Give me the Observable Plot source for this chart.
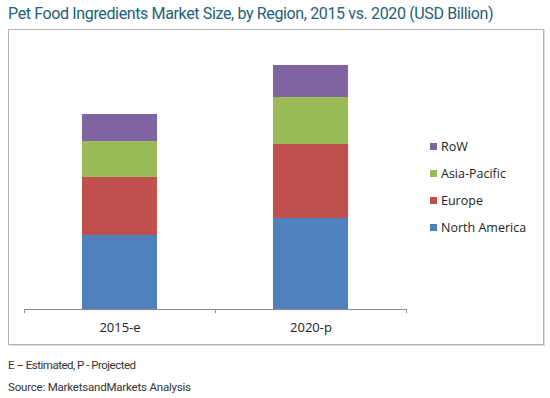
<!DOCTYPE html>
<html>
<head>
<meta charset="utf-8">
<script src="https://cdn.jsdelivr.net/npm/d3@7"></script>
<script src="https://cdn.jsdelivr.net/npm/@observablehq/plot@0.6"></script>
<style>
  html, body { margin: 0; padding: 0; background: #fff; }
  body { width: 550px; height: 398px; position: relative; overflow: hidden; }
  #title { position: absolute; left: 8px; top: 3px; font-family: "Roboto", sans-serif; font-size: 17px; letter-spacing: -0.4px; color: #22607b; white-space: nowrap; line-height: 20px; transform: scaleX(0.943); transform-origin: 0 0; }
  #frame { position: absolute; left: 8px; top: 29px; width: 536px; height: 316px; box-sizing: border-box; border: 1px solid #b4b4b4; box-shadow: 1px 1px 0 #dcdcdc; }
  #chart { position: absolute; left: 8px; top: 29px; }
  #legend { position: absolute; left: 430px; top: 133px; font-family: "Open Sans", sans-serif; font-size: 12.5px; color: #222; }
  #legend .row { height: 27px; display: flex; align-items: center; }
  #legend .sw { width: 7px; height: 7px; margin-right: 4px; }
  .foot { position: absolute; left: 8px; font-family: "Roboto", sans-serif; font-size: 11.5px; color: #333; white-space: nowrap; letter-spacing: -0.2px; }
</style>
</head>
<body>
<div id="title">Pet Food Ingredients Market Size, by Region, 2015 vs. 2020 (USD Billion)</div>
<div id="frame"></div>
<div id="chart"></div>
<div id="legend"></div>
<div class="foot" style="top:358px; letter-spacing:-0.5px">E – Estimated, P - Projected</div>
<div class="foot" style="top:380px">Source: MarketsandMarkets Analysis</div>
<script>
// Data (no y axis shown, values in USD Billion estimated)
const categories = ["2015-e", "2020-p"];
const regions = ["North America", "Europe", "Asia-Pacific", "RoW"];
const northAmerica = [7.4, 9.1];
const europe = [5.8, 7.4];
const asiaPacific = [3.6, 4.7];
const rowValues = [2.7, 3.2];
const colors = ["#4f81bd", "#c0504d", "#9bbb59", "#8064a2"];

const series = [northAmerica, europe, asiaPacific, rowValues];
const data = [];
regions.forEach((r, i) => categories.forEach((c, j) => data.push({region: r, year: c, value: series[i][j]})));

const W = 536, H = 316, mL = 16, mR = 138, mT = 20, mB = 36;
const step = (W - mL - mR) / categories.length;

const chart = Plot.plot({
  width: W, height: H,
  marginLeft: mL, marginRight: mR, marginTop: mT, marginBottom: mB,
  style: {background: "transparent", fontFamily: "Open Sans, sans-serif", fontSize: "13px", color: "#222"},
  x: {domain: categories, paddingInner: 0.607, paddingOuter: 0.3035, round: false, tickSize: 0, tickPadding: 13, label: null},
  y: {domain: [0, 26], axis: null},
  color: {domain: regions, range: colors},
  marks: [
    Plot.barY(data, {x: "year", y: "value", fill: "region"}),
    Plot.ruleY([0], {stroke: "#8a8a8a"}),
    Plot.ruleX(categories, {x: d => d, y1: 0, y2: 0, insetBottom: -4, dx: -step / 2, stroke: "#8a8a8a"}),
    Plot.ruleX(categories.slice(-1), {x: d => d, y1: 0, y2: 0, insetBottom: -4, dx: step / 2, stroke: "#8a8a8a"})
  ]
});
document.getElementById("chart").appendChild(chart);

const legend = document.getElementById("legend");
regions.slice().reverse().forEach(r => {
  const row = document.createElement("div");
  row.className = "row";
  const sw = document.createElement("span");
  sw.className = "sw";
  sw.style.background = colors[regions.indexOf(r)];
  const t = document.createElement("span");
  t.textContent = r;
  row.appendChild(sw); row.appendChild(t);
  legend.appendChild(row);
});
</script>
</body>
</html>
